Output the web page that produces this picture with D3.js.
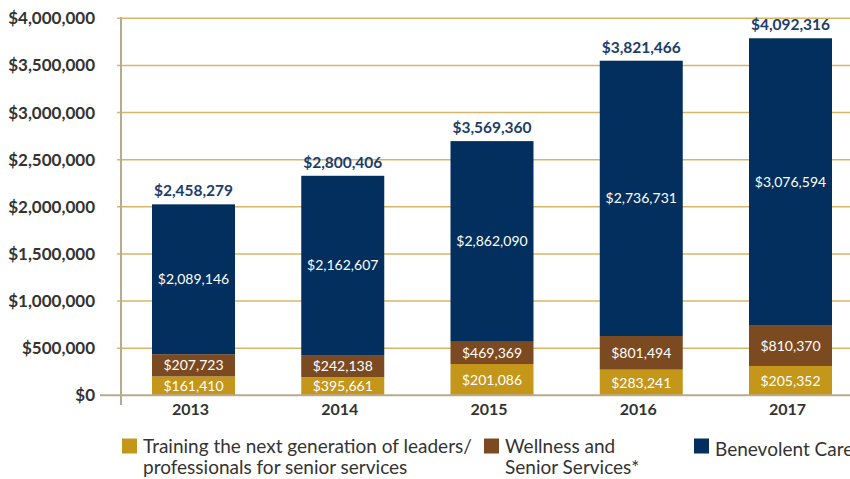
<!DOCTYPE html>
<html>
<head>
<meta charset="utf-8">
<script src="https://cdn.jsdelivr.net/npm/d3@7"></script>
<style>
  html, body { margin: 0; padding: 0; background: #ffffff; }
  svg { display: block; }
</style>
</head>
<body>
<svg id="chart" width="850" height="479"></svg>
<script>
// ---- Data ----
const years = ["2013", "2014", "2015", "2016", "2017"];

// Segment heights as drawn in the picture (dollars on the axis scale)
const trainingBars   = [200000, 191000, 332000, 272000, 311000];
const wellnessBars   = [236000, 236000, 236000, 357000, 435000];
const benevolentBars = [1590000, 1902000, 2129000, 2921000, 3042000];

// Value labels printed on the chart
const trainingLabels   = ["$161,410", "$395,661", "$201,086", "$283,241", "$205,352"];
const wellnessLabels   = ["$207,723", "$242,138", "$469,369", "$801,494", "$810,370"];
const benevolentLabels = ["$2,089,146", "$2,162,607", "$2,862,090", "$2,736,731", "$3,076,594"];
const totalLabels      = ["$2,458,279", "$2,800,406", "$3,569,360", "$3,821,466", "$4,092,316"];

const yTicks = [0, 500000, 1000000, 1500000, 2000000, 2500000, 3000000, 3500000, 4000000];

const seriesNames = [
  ["Training the next generation of leaders/", "professionals for senior services"],
  ["Wellness and", "Senior Services*"],
  ["Benevolent Care"]
];
const colors = ["#c4961a", "#7c4a20", "#022f5e"];

// ---- Layout ----
const svg = d3.select("#chart");
const yBottom = 395.3, yTop = 18.3;
const axisX = 121;

const y = d3.scaleLinear().domain([0, 4000000]).range([yBottom, yTop]);

const step = 149.25, bw = 83;
const pIn = 1 - bw / step;
const x = d3.scaleBand()
  .domain(years)
  .paddingInner(pIn)
  .paddingOuter(pIn)
  .range([152 - pIn * step, 152 - pIn * step + step * (years.length - pIn + 2 * pIn)]);

const FONT = "Lato, 'Open Sans', 'Liberation Sans', sans-serif";

// Gridlines
svg.append("g")
  .selectAll("line")
  .data(yTicks.filter(d => d > 0))
  .join("line")
  .attr("x1", 117).attr("x2", 850)
  .attr("y1", d => y(d)).attr("y2", d => y(d))
  .attr("stroke", "#d9b667")
  .attr("stroke-width", 1.6);

// Y axis labels
const yAxis = d3.axisLeft(y)
  .tickValues(yTicks)
  .tickSize(0)
  .tickPadding(0)
  .tickFormat(d => "$" + d3.format(",")(d));
const gy = svg.append("g").attr("transform", "translate(95,0)").call(yAxis);
gy.select(".domain").remove();
gy.selectAll("text")
  .attr("font-family", FONT)
  .attr("font-weight", "bold")
  .attr("font-size", 17)
  .attr("fill", "#333333");

// Stack
const rows = years.map((yr, i) => ({
  year: yr,
  training: trainingBars[i],
  wellness: wellnessBars[i],
  benevolent: benevolentBars[i]
}));
const keys = ["training", "wellness", "benevolent"];
const labelSets = { training: trainingLabels, wellness: wellnessLabels, benevolent: benevolentLabels };
const stacked = d3.stack().keys(keys)(rows);

const layers = svg.append("g").selectAll("g")
  .data(stacked)
  .join("g")
  .attr("fill", (d, i) => colors[i]);

layers.selectAll("rect")
  .data(d => d)
  .join("rect")
  .attr("x", d => x(d.data.year))
  .attr("width", x.bandwidth())
  .attr("y", d => y(d[1]))
  .attr("height", d => y(d[0]) - y(d[1]));

// Segment labels
stacked.forEach(layer => {
  svg.append("g")
    .selectAll("text")
    .data(layer)
    .join("text")
    .attr("x", d => x(d.data.year) + x.bandwidth() / 2)
    .attr("y", d => (y(d[0]) + y(d[1])) / 2)
    .attr("dy", "0.36em")
    .attr("text-anchor", "middle")
    .attr("font-family", FONT)
    .attr("font-size", 14)
    .attr("fill", "#ffffff")
    .text((d, i) => labelSets[layer.key][i]);
});

// Total labels
const topLayer = stacked[stacked.length - 1];
svg.append("g")
  .selectAll("text")
  .data(topLayer)
  .join("text")
  .attr("x", d => x(d.data.year) + x.bandwidth() / 2)
  .attr("y", d => y(d[1]) - 8)
  .attr("text-anchor", "middle")
  .attr("font-family", FONT)
  .attr("font-weight", "bold")
  .attr("font-size", 15.5)
  .attr("fill", "#1c3d6b")
  .text((d, i) => totalLabels[i]);

// Axes lines
svg.append("line")
  .attr("x1", 100).attr("x2", 850)
  .attr("y1", yBottom).attr("y2", yBottom)
  .attr("stroke", "#b7ab8e").attr("stroke-width", 2);
svg.append("line")
  .attr("x1", axisX).attr("x2", axisX)
  .attr("y1", yTop - 1).attr("y2", 405)
  .attr("stroke", "#b7ab8e").attr("stroke-width", 2);

// X axis labels
const xAxis = d3.axisBottom(x).tickSize(0).tickPadding(0);
const gx = svg.append("g").attr("transform", `translate(-3,${yBottom})`).call(xAxis);
gx.select(".domain").remove();
gx.selectAll("text")
  .attr("y", 0)
  .attr("dy", 20)
  .attr("font-family", FONT)
  .attr("font-weight", "bold")
  .attr("font-size", 16)
  .attr("fill", "#333333");

// Legend
const legendX = [122, 484, 694];
const legendTextY = [453, 452.5, 456];
const legend = svg.append("g");
seriesNames.forEach((lines, i) => {
  const g = legend.append("g");
  g.append("rect")
    .attr("x", legendX[i]).attr("y", 438.5)
    .attr("width", 15).attr("height", 15)
    .attr("fill", colors[i]);
  const t = g.append("text")
    .attr("font-family", FONT)
    .attr("font-size", 19)
    .attr("fill", "#333333");
  lines.forEach((ln, j) => {
    t.append("tspan")
      .attr("x", legendX[i] + 21)
      .attr("y", legendTextY[i] + j * 21)
      .text(ln);
  });
});
</script>
</body>
</html>
